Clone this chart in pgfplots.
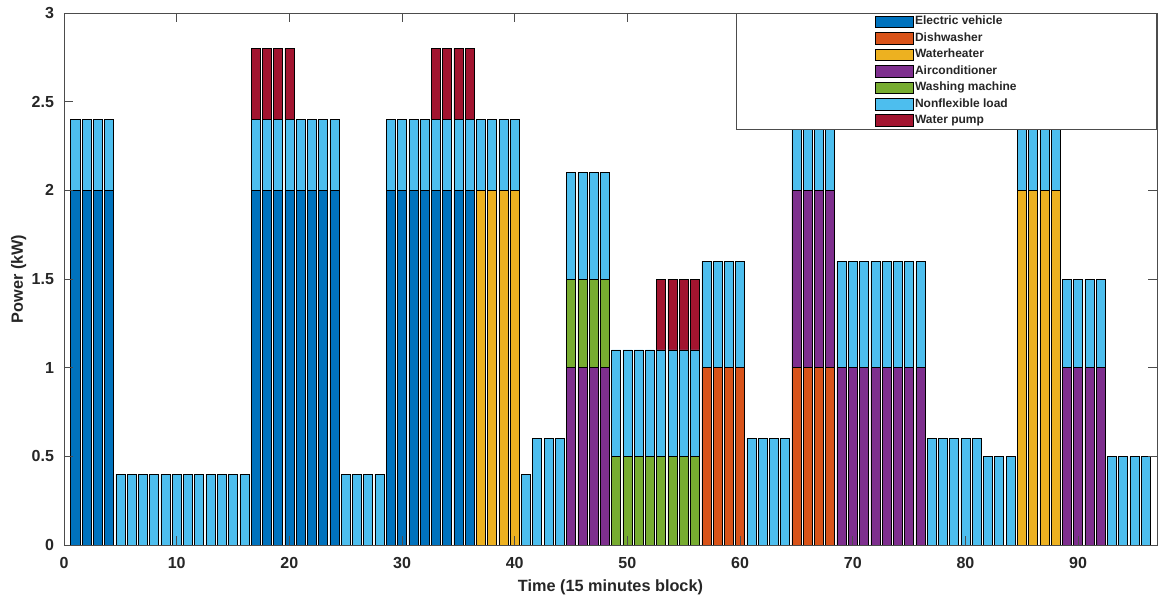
\documentclass[border=0pt]{standalone}
\usepackage{pgfplots}
\usepackage{pgfplotstable}
\pgfplotsset{compat=1.18}
\usepackage{fontspec}
\setmainfont{Liberation Sans}
\definecolor{cEV}{rgb}{0,0.447,0.741}
\definecolor{cDW}{rgb}{0.85,0.325,0.098}
\definecolor{cWH}{rgb}{0.929,0.694,0.125}
\definecolor{cAC}{rgb}{0.494,0.184,0.556}
\definecolor{cWM}{rgb}{0.466,0.674,0.188}
\definecolor{cNF}{rgb}{0.301,0.745,0.933}
\definecolor{cWP}{rgb}{0.635,0.078,0.184}
\definecolor{txt}{rgb}{0.15,0.15,0.15}
\pgfplotstableread{
x ev dw wh ac wm nf wp
1 2 0 0 0 0 0.4 0
2 2 0 0 0 0 0.4 0
3 2 0 0 0 0 0.4 0
4 2 0 0 0 0 0.4 0
5 0 0 0 0 0 0.4 0
6 0 0 0 0 0 0.4 0
7 0 0 0 0 0 0.4 0
8 0 0 0 0 0 0.4 0
9 0 0 0 0 0 0.4 0
10 0 0 0 0 0 0.4 0
11 0 0 0 0 0 0.4 0
12 0 0 0 0 0 0.4 0
13 0 0 0 0 0 0.4 0
14 0 0 0 0 0 0.4 0
15 0 0 0 0 0 0.4 0
16 0 0 0 0 0 0.4 0
17 2 0 0 0 0 0.4 0.4
18 2 0 0 0 0 0.4 0.4
19 2 0 0 0 0 0.4 0.4
20 2 0 0 0 0 0.4 0.4
21 2 0 0 0 0 0.4 0
22 2 0 0 0 0 0.4 0
23 2 0 0 0 0 0.4 0
24 2 0 0 0 0 0.4 0
25 0 0 0 0 0 0.4 0
26 0 0 0 0 0 0.4 0
27 0 0 0 0 0 0.4 0
28 0 0 0 0 0 0.4 0
29 2 0 0 0 0 0.4 0
30 2 0 0 0 0 0.4 0
31 2 0 0 0 0 0.4 0
32 2 0 0 0 0 0.4 0
33 2 0 0 0 0 0.4 0.4
34 2 0 0 0 0 0.4 0.4
35 2 0 0 0 0 0.4 0.4
36 2 0 0 0 0 0.4 0.4
37 0 0 2 0 0 0.4 0
38 0 0 2 0 0 0.4 0
39 0 0 2 0 0 0.4 0
40 0 0 2 0 0 0.4 0
41 0 0 0 0 0 0.4 0
42 0 0 0 0 0 0.6 0
43 0 0 0 0 0 0.6 0
44 0 0 0 0 0 0.6 0
45 0 0 0 1 0.5 0.6 0
46 0 0 0 1 0.5 0.6 0
47 0 0 0 1 0.5 0.6 0
48 0 0 0 1 0.5 0.6 0
49 0 0 0 0 0.5 0.6 0
50 0 0 0 0 0.5 0.6 0
51 0 0 0 0 0.5 0.6 0
52 0 0 0 0 0.5 0.6 0
53 0 0 0 0 0.5 0.6 0.4
54 0 0 0 0 0.5 0.6 0.4
55 0 0 0 0 0.5 0.6 0.4
56 0 0 0 0 0.5 0.6 0.4
57 0 1 0 0 0 0.6 0
58 0 1 0 0 0 0.6 0
59 0 1 0 0 0 0.6 0
60 0 1 0 0 0 0.6 0
61 0 0 0 0 0 0.6 0
62 0 0 0 0 0 0.6 0
63 0 0 0 0 0 0.6 0
64 0 0 0 0 0 0.6 0
65 0 1 0 1 0 0.6 0
66 0 1 0 1 0 0.6 0
67 0 1 0 1 0 0.6 0
68 0 1 0 1 0 0.6 0
69 0 0 0 1 0 0.6 0
70 0 0 0 1 0 0.6 0
71 0 0 0 1 0 0.6 0
72 0 0 0 1 0 0.6 0
73 0 0 0 1 0 0.6 0
74 0 0 0 1 0 0.6 0
75 0 0 0 1 0 0.6 0
76 0 0 0 1 0 0.6 0
77 0 0 0 0 0 0.6 0
78 0 0 0 0 0 0.6 0
79 0 0 0 0 0 0.6 0
80 0 0 0 0 0 0.6 0
81 0 0 0 0 0 0.6 0
82 0 0 0 0 0 0.5 0
83 0 0 0 0 0 0.5 0
84 0 0 0 0 0 0.5 0
85 0 0 2 0 0 0.5 0
86 0 0 2 0 0 0.5 0
87 0 0 2 0 0 0.5 0
88 0 0 2 0 0 0.5 0
89 0 0 0 1 0 0.5 0
90 0 0 0 1 0 0.5 0
91 0 0 0 1 0 0.5 0
92 0 0 0 1 0 0.5 0
93 0 0 0 0 0 0.5 0
94 0 0 0 0 0 0.5 0
95 0 0 0 0 0 0.5 0
96 0 0 0 0 0 0.5 0
}\loaddata
\begin{document}
\begin{tikzpicture}
\begin{axis}[
  scale only axis,
  width=819.75pt, height=399pt,
  xmin=0, xmax=97, ymin=0, ymax=3,
  ybar stacked, bar width=0.8,
  xtick={0,10,...,90},
  ytick={0,0.5,1,1.5,2,2.5,3},
  yticklabels={0,0.5,1,1.5,2,2.5,3},
  xticklabels={0,10,20,30,40,50,60,70,80,90},
  tick align=inside,
  major tick length=7pt,
  axis on top,
  axis line style={black!70, line width=0.5pt},
  tick style={black!70, line width=0.5pt},
  tick label style={font=\bfseries\fontsize{12}{14}\selectfont, text=txt},
  xticklabel style={yshift=-6pt},
  yticklabel style={xshift=-4pt},
  xlabel={Time (15 minutes block)},
  ylabel={Power (kW)},
  every axis x label/.style={at={(axis description cs:0.5,-0.079)}, anchor=center,
    font=\bfseries\fontsize{12.2}{14}\selectfont, text=txt},
  every axis y label/.style={at={(axis description cs:-0.0415,0.5)}, anchor=center, rotate=90,
    font=\bfseries\fontsize{12.2}{14}\selectfont, text=txt},
  every axis plot/.append style={draw=black, line width=0.4pt},
  legend image code/.code={\draw[#1] (0pt,-4.4pt) rectangle (28.5pt,4.4pt);},
  legend style={at={(1,1)}, anchor=north east, draw=black!70, line width=0.5pt,
    inner xsep=104pt, inner ysep=1.2pt, row sep=2.05pt,
    font=\bfseries\fontsize{9}{10}\selectfont, text=txt,
    nodes={inner sep=1pt, text height=6.5pt, text depth=1.8pt},
    cells={anchor=west}},
]
\addplot[fill=cEV] table[x=x,y=ev]{\loaddata};
\addlegendentry{Electric vehicle}
\addplot[fill=cDW] table[x=x,y=dw]{\loaddata};
\addlegendentry{Dishwasher}
\addplot[fill=cWH] table[x=x,y=wh]{\loaddata};
\addlegendentry{Waterheater}
\addplot[fill=cAC] table[x=x,y=ac]{\loaddata};
\addlegendentry{Airconditioner}
\addplot[fill=cWM] table[x=x,y=wm]{\loaddata};
\addlegendentry{Washing machine}
\addplot[fill=cNF] table[x=x,y=nf]{\loaddata};
\addlegendentry{Nonflexible load}
\addplot[fill=cWP] table[x=x,y=wp]{\loaddata};
\addlegendentry{Water pump}
\end{axis}
\pgfresetboundingbox
\path (-48pt,-44.25pt) rectangle (820.5pt,408.75pt);
\end{tikzpicture}
\end{document}
